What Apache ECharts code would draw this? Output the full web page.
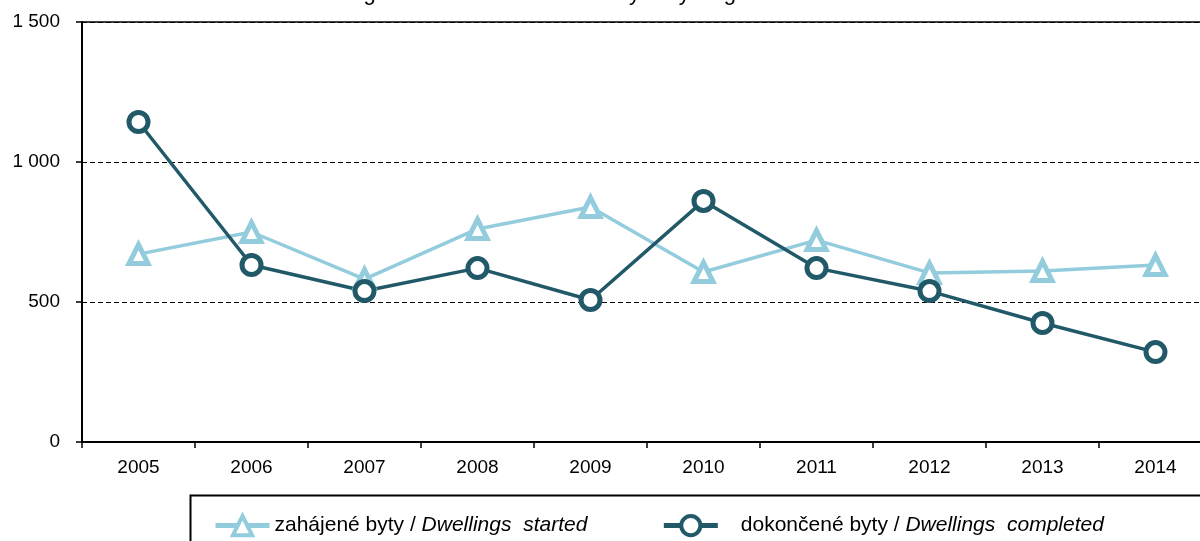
<!DOCTYPE html>
<html>
<head>
<meta charset="utf-8">
<script src="https://cdn.jsdelivr.net/npm/echarts@6/dist/echarts.min.js"></script>
<style>
  html, body { margin: 0; padding: 0; background: #fff; }
  #chart { width: 1200px; height: 541px; }
</style>
</head>
<body>
<div id="chart"></div>
<script>
var years = ['2005', '2006', '2007', '2008', '2009', '2010', '2011', '2012', '2013', '2014'];
var started = [671, 750, 582, 761, 839, 607, 721, 604, 611, 632];
var completed = [1143, 632, 539, 621, 507, 861, 621, 539, 425, 321];
var nameStarted = 'zahájené byty / Dwellings  started';
var nameCompleted = 'dokončené byty / Dwellings  completed';

var myChart = echarts.init(document.getElementById('chart'));

// legend text: Czech part upright, English part italic
function legendText(name) {
    var parts = name.split(' / ');
    var pad = name === nameCompleted ? '{s|}' : '';
    return pad + '{a|' + parts[0] + ' / }{b|' + parts[1] + '}';
}

var option = {
    backgroundColor: '#fff',
    animation: false,
    textStyle: { fontFamily: 'Liberation Sans, Arial, sans-serif' },
    title: {
        text: 'Housing construction in the Karlovy Vary Region in 2005–2014',
        left: 'center',
        top: -22,
        textStyle: { fontSize: 22, fontWeight: 'normal', color: '#000' }
    },
    grid: {
        left: 82, top: 22, width: 1130, height: 420,
        outerBoundsMode: 'none',
        show: true, borderColor: '#000', borderWidth: 1.5
    },
    xAxis: {
        type: 'category',
        data: years,
        boundaryGap: true,
        axisLine: { lineStyle: { color: '#000', width: 2 } },
        axisTick: { show: true, length: 6, lineStyle: { color: '#000', width: 1.5 } },
        axisLabel: { color: '#000', fontSize: 19, margin: 16 }
    },
    yAxis: {
        type: 'value',
        min: 0, max: 1500, interval: 500,
        axisLine: { show: true, lineStyle: { color: '#000', width: 2 } },
        axisTick: { show: true, length: 6, lineStyle: { color: '#000', width: 1.5 } },
        axisLabel: {
            color: '#000', fontSize: 19, margin: 22,
            formatter: function (v) { return v >= 1000 ? Math.floor(v / 1000) + ' ' + String(v % 1000).padStart(3, '0') : String(v); }
        },
        splitLine: { lineStyle: { color: '#000', type: [5, 3], width: 1 } }
    },
    legend: {
        left: 208, top: 509,
        itemWidth: 54, itemHeight: 24, itemGap: 74,
        data: [nameStarted, nameCompleted],
        formatter: legendText,
        lineStyle: { width: 5 },
        itemStyle: { borderWidth: 4 },
        textStyle: {
            color: '#000', fontSize: 21,
            rich: {
                s: { width: 18 },
                a: { fontSize: 21, color: '#000' },
                b: { fontSize: 21, color: '#000', fontStyle: 'italic' }
            }
        }
    },
    graphic: [{
        type: 'rect',
        left: 188, top: 493,
        shape: { width: 1100, height: 100 },
        style: { fill: 'none', stroke: '#000', lineWidth: 2 },
        silent: true
    }],
    series: [
        {
            name: nameStarted,
            type: 'line',
            data: started,
            symbol: 'triangle',
            symbolSize: 19,
            lineStyle: { color: '#93cddd', width: 3.5 },
            itemStyle: { color: '#fff', borderColor: '#93cddd', borderWidth: 5 }
        },
        {
            name: nameCompleted,
            type: 'line',
            data: completed,
            symbol: 'circle',
            symbolSize: 19,
            lineStyle: { color: '#215968', width: 3.5 },
            itemStyle: { color: '#fff', borderColor: '#215968', borderWidth: 5 }
        }
    ]
};

myChart.setOption(option);
</script>
</body>
</html>
